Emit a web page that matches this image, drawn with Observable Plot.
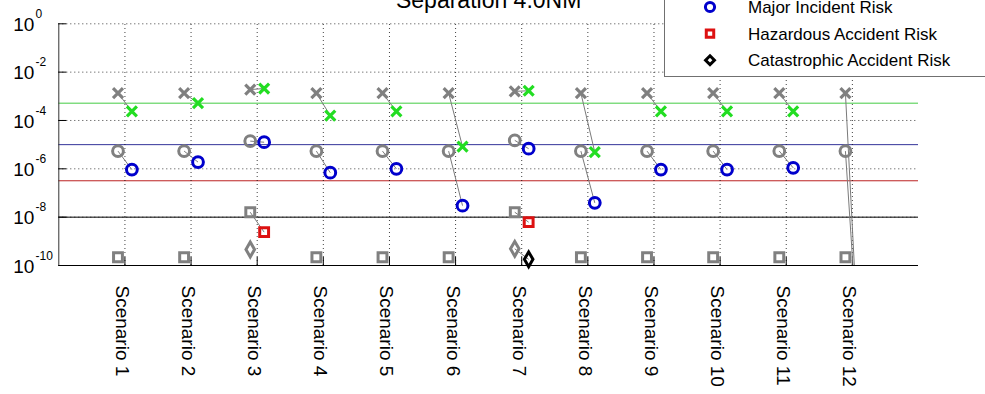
<!DOCTYPE html>
<html><head><meta charset="utf-8">
<script src="https://cdn.jsdelivr.net/npm/d3@7"></script>
<script src="https://cdn.jsdelivr.net/npm/@observablehq/plot@0.6"></script>
<style>
body{margin:0;background:#fff;font-family:"Liberation Sans",Arial,Helvetica,sans-serif;}
#wrap{position:relative;width:985px;height:394px;overflow:hidden;background:#fff;}
#legend{position:absolute;left:664px;top:-32px;width:322px;height:109px;border:1px solid #707070;background:#fff;box-sizing:border-box;}
#legend svg{position:absolute;left:0;top:0;}
</style></head><body><div id="wrap"></div>
<script>
// ---- data ----
const title = "Separation 4.0NM";
const scenarios = ["Scenario 1","Scenario 2","Scenario 3","Scenario 4","Scenario 5","Scenario 6","Scenario 7","Scenario 8","Scenario 9","Scenario 10","Scenario 11","Scenario 12"];
const yTickValues = [1, 1e-2, 1e-4, 1e-6, 1e-8, 1e-10];
const yTickExponents = ["0","-2","-4","-6","-8","-10"];
// before (grey) and after (coloured) values per scenario; null = not shown
const minorBefore = [1.35e-3,1.35e-3,1.9e-3,1.35e-3,1.35e-3,1.35e-3,1.6e-3,1.35e-3,1.35e-3,1.35e-3,1.35e-3,1.35e-3];
const minorAfter  = [2.4e-4,5.2e-4,2.1e-3,1.6e-4,2.4e-4,8.3e-6,1.7e-3,4.9e-6,2.4e-4,2.4e-4,2.4e-4,1e-14];
const majorBefore = [5.4e-6,5.4e-6,1.4e-5,5.4e-6,5.4e-6,5.4e-6,1.5e-5,5.4e-6,5.4e-6,5.4e-6,5.4e-6,5.4e-6];
const majorAfter  = [9.3e-7,1.9e-6,1.26e-5,6.9e-7,1.0e-6,3.0e-8,6.8e-6,3.9e-8,9.3e-7,9.3e-7,1.1e-6,1e-14];
const hazBefore   = [2.2e-10,2.2e-10,1.6e-8,2.2e-10,2.2e-10,2.2e-10,1.6e-8,2.2e-10,2.2e-10,2.2e-10,2.2e-10,2.2e-10];
const hazAfter    = [null,null,2.4e-9,null,null,null,6.2e-9,null,null,null,null,null];
const catBefore   = [null,null,4.6e-10,null,null,null,4.9e-10,null,null,null,null,null];
const catAfter    = [null,null,null,null,null,null,1.8e-10,null,null,null,null,null];
// target levels
const minorTarget = 5.2e-4;
const majorTarget = 1.0e-5;
const hazTarget = 3.2e-7;
const catTarget = 1e-8;
const legendLabels = ["Major Incident Risk","Hazardous Accident Risk","Catastrophic Accident Risk"];

// ---- styles ----
const grey = "#808080";
const cGreen = "#22dd22", cBlue = "#0000cc", cRed = "#dd1111", cBlack = "#000000";
const off = 0.105;
const yMin = 1e-10;

const idx = scenarios.map((_, i) => i + 1);
function rows(before, after) { return idx.map((s, i) => ({s, b: before[i], a: after[i]})); }
const series = [
  {rows: rows(minorBefore, minorAfter), symbol: "times", color: cGreen, r: 4.6, sw: 3.2},
  {rows: rows(majorBefore, majorAfter), symbol: "circle", color: cBlue, r: 5.4, sw: 3},
  {rows: rows(hazBefore, hazAfter), symbol: "square", color: cRed, r: 5, sw: 3},
  {rows: rows(catBefore, catAfter), symbol: "diamond", color: cBlack, r: 4.5, sw: 3}
];

const marks = [];
// targets
marks.push(Plot.ruleY([minorTarget], {stroke: "#44cc44", strokeWidth: 1}));
marks.push(Plot.ruleY([majorTarget], {stroke: "#333399", strokeWidth: 1}));
marks.push(Plot.ruleY([hazTarget], {stroke: "#bb2222", strokeWidth: 1}));
// grid
marks.push(Plot.ruleY(yTickValues.filter(v => v > yMin), {stroke: "#000", strokeWidth: 1, strokeDasharray: "1,3", strokeOpacity: 0.75}));
marks.push(Plot.ruleX(idx, {y1: yMin, y2: 1, stroke: "#000", strokeWidth: 1, strokeDasharray: "1,3", strokeOpacity: 0.75}));
marks.push(Plot.ruleY([catTarget], {stroke: "#000", strokeWidth: 1}));
// axes lines
marks.push(Plot.ruleX([0], {y1: yMin, y2: 1, stroke: "#333", strokeWidth: 1}));
marks.push(Plot.ruleY([yMin], {x1: 0, x2: 13, stroke: "#000", strokeWidth: 1.2}));
// inward ticks
marks.push(Plot.ruleY(yTickValues, {x1: 0, x2: 0.12, stroke: "#000", strokeWidth: 1}));
marks.push(Plot.ruleX(idx, {y1: yMin, y2: 10 ** -9.67, stroke: "#000", strokeWidth: 1}));
// connectors
for (const sr of series) {
  const d = sr.rows.filter(r => r.b != null && r.a != null);
  marks.push(Plot.link(d, {x1: r => r.s - off, y1: "b", x2: r => r.s + off, y2: "a", stroke: "#7a7a7a", strokeWidth: 1, clip: true}));
}
// markers
for (const sr of series) {
  const before = sr.rows.filter(r => r.b != null && r.b >= yMin);
  const after = sr.rows.filter(r => r.a != null && r.a >= yMin);
  marks.push(Plot.dot(before, {x: r => r.s - off, y: "b", symbol: sr.symbol, r: sr.r, stroke: grey, strokeWidth: sr.sw, fill: "none"}));
  marks.push(Plot.dot(after, {x: r => r.s + off, y: "a", symbol: sr.symbol, r: sr.r, stroke: sr.color, strokeWidth: sr.sw, fill: "none"}));
}
// tick labels
marks.push(Plot.text(yTickValues, {y: d => d, frameAnchor: "left", textAnchor: "start", dx: -45.5, dy: 1, text: () => "10", fontSize: 19, fill: "#000"}));
marks.push(Plot.text(yTickValues, {y: d => d, frameAnchor: "left", textAnchor: "start", dx: -23.3, dy: -9.6, text: (d, i) => yTickExponents[i], fontSize: 12, fill: "#000"}));
marks.push(Plot.text(idx, {x: d => d, frameAnchor: "bottom", rotate: 90, textAnchor: "start", dx: -9, dy: 20, text: (d, i) => scenarios[i], fontSize: 19, fill: "#000"}));
// title
marks.push(Plot.text([title], {frameAnchor: "top", lineAnchor: "bottom", dy: -15.3, text: d => d, fontSize: 23, fill: "#000"}));

const chart = Plot.plot({
  width: 985, height: 394,
  marginLeft: 58.3, marginRight: 67, marginTop: 23.3, marginBottom: 129,
  style: {fontFamily: '"Liberation Sans", Arial, sans-serif', background: "#fff", overflow: "visible"},
  x: {domain: [0, 13], axis: null},
  y: {type: "log", domain: [yMin, 1], axis: null},
  marks
});
const wrap = document.getElementById("wrap");
wrap.appendChild(chart);

// legend (partly cropped at top, as in the reference)
const leg = d3.select(wrap).append("div").attr("id", "legend");
const lsvg = leg.append("svg").attr("width", 322).attr("height", 109);
const legSym = [
  {symbol: d3.symbolCircle, color: cBlue, size: Math.PI * 4.6 * 4.6},
  {symbol: d3.symbolSquare, color: cRed, size: Math.PI * 4.2 * 4.2},
  {symbol: d3.symbolDiamond2, color: cBlack, size: Math.PI * 4 * 4}
];
legendLabels.forEach((lab, i) => {
  const cy = 32 + 6 + i * 26.6;
  lsvg.append("path").attr("d", d3.symbol(legSym[i].symbol, legSym[i].size)())
    .attr("transform", `translate(${709 - 664},${cy})`)
    .attr("fill", "none").attr("stroke", legSym[i].color).attr("stroke-width", 3);
  lsvg.append("text").attr("x", 747 - 664).attr("y", cy).attr("dy", "0.35em")
    .attr("font-size", 17).attr("font-family", '"Liberation Sans", Arial, sans-serif').attr("fill", "#000").text(lab);
});
</script></body></html>
